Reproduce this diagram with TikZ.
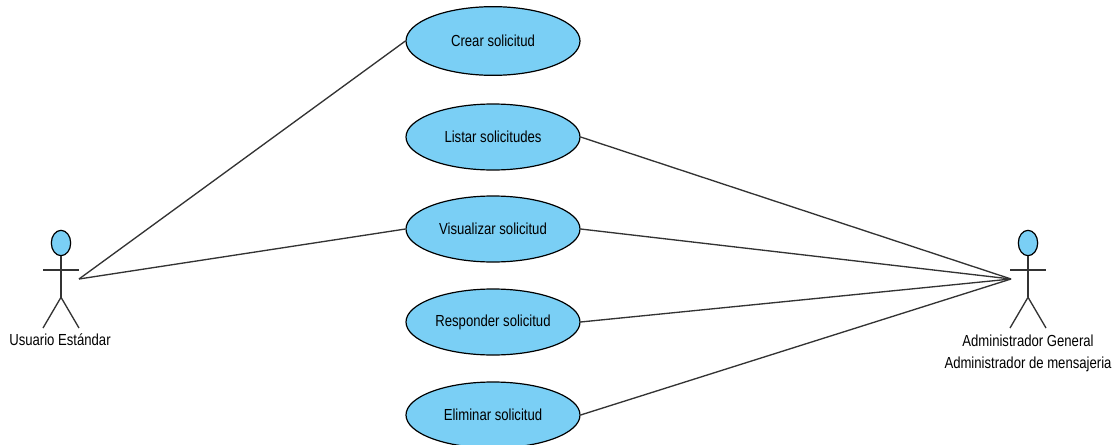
\documentclass[tikz,border=0pt]{standalone}
\usepackage{fontspec}
\setmainfont[FakeStretch=0.82]{Liberation Sans}
\usepackage{tikz}
\usetikzlibrary{shapes.geometric}
\definecolor{colCase}{RGB}{122,207,245}
\newcommand{\definitions}{%
  % line of every actor and connector
  \colorlet{colLine}{black!80}
  % ends of the connectors at the actors
  \coordinate (oU) at (79, 165);
  \coordinate (oA) at (1011, 165);
}
% stick figure with head at #1, #2 is its name
\newcommand{\actorfig}[2]{%
  \node[head] (#2) at (#1, 201) {};
  \draw[actorline] (#2.south) -- ++(0,-41) coordinate (#2hip);
  \draw[actorline] (#1-18, 174) -- (#1+18, 174);
  \draw[actorline] (#1-18, 116) -- (#2hip) -- (#1+18, 116);
}
\tikzset{
  x=0.75pt, y=0.75pt,
  usecase/.style={draw, ellipse, fill=colCase, line width=0.9pt, minimum width=130.5pt, minimum height=49.5pt, inner sep=0pt, font=\fontsize{12}{14}\selectfont},
  head/.style={draw, ellipse, fill=colCase, line width=0.9pt, minimum width=14.5pt, minimum height=19pt, inner sep=0pt},
  actorline/.style={colLine, line width=1pt},
  assoc/.style={colLine, line width=1pt},
  actorlabel/.style={font=\fontsize{12}{14}\selectfont, inner sep=0pt}
}
\begin{document}
\begin{tikzpicture}

  % define colors and ends
  \definitions
  \useasboundingbox (0, 0) rectangle (1120, 444);

  % use cases
  \node[usecase, minimum height=51.5pt] (crear) at (493, 403) {Crear solicitud};
  \node[usecase] (listar) at (493, 307) {Listar solicitudes};
  \node[usecase] (visualizar) at (493, 215) {Visualizar solicitud};
  \node[usecase] (responder) at (493, 122) {Responder solicitud};
  \node[usecase] (eliminar) at (493, 29) {Eliminar solicitud};

  % actors
  \actorfig{61}{usuario}
  \actorfig{1028}{admin}

  % actor names
  \node[actorlabel] (usuarioName) at (60, 104) {Usuario Estándar};
  \node[actorlabel] (adminName) at (1028, 103) {Administrador General};
  \node[actorlabel] (mensajeName) at (1028, 80) {Administrador de mensajeria};

  % connectors
  \draw[assoc] (oU) -- (crear.west);
  \draw[assoc] (oU) -- (visualizar.west);
  \draw[assoc] (oA) -- (listar.east);
  \draw[assoc] (oA) -- (visualizar.east);
  \draw[assoc] (oA) -- (responder.east);
  \draw[assoc] (oA) -- (eliminar.east);

\end{tikzpicture}
\end{document}
